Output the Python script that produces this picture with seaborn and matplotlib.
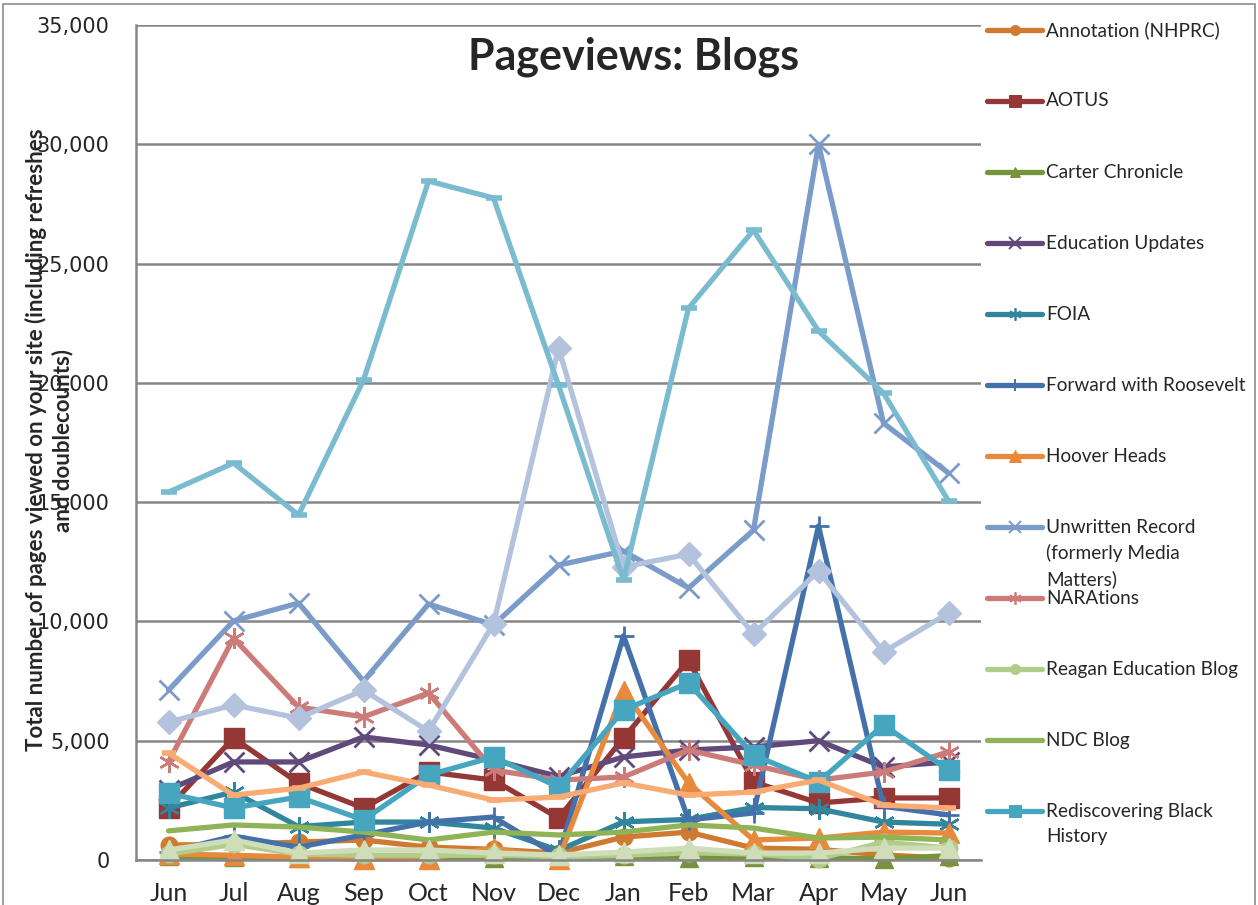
import numpy as np
import pandas as pd
import seaborn as sns
import matplotlib.pyplot as plt
from matplotlib.lines import Line2D
from matplotlib.patches import Rectangle
from matplotlib.ticker import FuncFormatter, FixedLocator

# months, Jun through Jun
months = ['Jun', 'Jul', 'Aug', 'Sep', 'Oct', 'Nov', 'Dec', 'Jan', 'Feb', 'Mar', 'Apr', 'May', 'Jun']

# pageviews per blog
annotation = [630, 650, 750, 840, 540, 450, 290, 960, 1170, 500, 450, 210, 80]
aotus = [2200, 5110, 3230, 2180, 3690, 3350, 1760, 5110, 8380, 3270, 2390, 2600, 2600]
carter = [150, 130, 90, 70, 70, 100, 180, 150, 100, 120, 100, 50, 180]
education = [2950, 4110, 4110, 5160, 4820, 4190, 3500, 4320, 4610, 4740, 5000, 3900, 4110]
foia = [2180, 2850, 1400, 1590, 1590, 1340, 400, 1600, 1700, 2200, 2150, 1590, 1500]
roosevelt = [330, 1000, 540, 1050, 1590, 1800, 150, 9400, 1680, 1970, 14000, 2250, 1890]
hoover = [250, 200, 120, 30, 50, 500, 30, 7100, 3230, 840, 920, 1170, 1130]
unwritten = [7120, 10020, 10770, 7500, 10730, 9850, 12360, 12950, 11400, 13830, 30000, 18310, 16220]
narations = [4110, 9300, 6410, 6000, 7000, 3770, 3350, 3480, 4610, 3980, 3350, 3690, 4530]
reagan = [250, 650, 250, 200, 200, 200, 150, 200, 300, 250, 50, 750, 500]
ndc = [1220, 1470, 1380, 1170, 840, 1170, 1050, 1170, 1470, 1340, 920, 960, 840]
black_history = [2800, 2180, 2640, 1680, 3560, 4320, 3060, 6290, 7420, 4400, 3270, 5660, 3770]
# series that fell off the bottom of the legend
series13 = [5780, 6500, 5950, 7120, 5400, 9890, 21460, 12280, 12820, 9470, 12110, 8720, 10350]
series14 = [15420, 16640, 14460, 20120, 28460, 27750, 19900, 11740, 23130, 26400, 22170, 19570, 15050]
series15 = [4480, 2720, 3010, 3690, 3140, 2510, 2640, 3230, 2720, 2850, 3350, 2300, 2180]
series16 = [420, 840, 290, 420, 420, 290, 210, 330, 500, 290, 290, 500, 500]

legend_names = ['Annotation (NHPRC)', 'AOTUS', 'Carter Chronicle', 'Education Updates', 'FOIA',
                'Forward with Roosevelt', 'Hoover Heads',
                'Unwritten Record\n(formerly Media\nMatters)', 'NARAtions',
                'Reagan Education Blog', 'NDC Blog', 'Rediscovering Black\nHistory']

asterisk = (6, 2, 0)
# (values, color, marker, markersize, edge width)
series = [
    (annotation, '#cf7a30', 'o', 12, 1),
    (aotus, '#953735', 's', 15, 1),
    (carter, '#77933c', '^', 13, 1),
    (education, '#604a7b', 'x', 14, 2),
    (foia, '#31859c', asterisk, 15, 1.8),
    (roosevelt, '#4571ab', '+', 15, 2),
    (hoover, '#e8893b', '^', 14, 1),
    (unwritten, '#7b9bc9', 'x', 15, 2),
    (narations, '#cd7b79', asterisk, 15, 1.8),
    (reagan, '#b1cd8c', 'o', 12, 1),
    (ndc, '#8fb356', None, 0, 0),
    (black_history, '#46a5bf', 's', 15, 1),
    (series13, '#b3c3dd', 'D', 12, 1),
    (series14, '#7abbd0', '_', 11, 4),
    (series15, '#f9ab74', '_', 10, 4),
    (series16, '#cfdeb8', '^', 14, 1),
]

W, H = 1258, 905
sns.set_theme(style='white')
plt.rcParams['font.family'] = ['Lato', 'DejaVu Sans']

fig = plt.figure(figsize=(W / 100, H / 100), dpi=100)
ax = fig.add_axes([136 / W, 1 - 860 / H, (981 - 136) / W, (860 - 25) / H])

x = np.arange(len(months))
for vals, color, marker, ms, mew in series:
    df = pd.DataFrame({'x': x, 'views': vals})
    sns.lineplot(data=df, x='x', y='views', ax=ax, color=color, lw=3.8,
                 marker=marker, markersize=ms, markeredgecolor=color,
                 markerfacecolor=color, markeredgewidth=mew,
                 clip_on=False, legend=False)

grid = '#868686'
ax.set_xlim(-0.5, len(months) - 0.5)
ax.set_ylim(0, 35000)
ax.yaxis.set_major_locator(FixedLocator(range(0, 35001, 5000)))
ax.yaxis.set_major_formatter(FuncFormatter(lambda v, p: f'{int(v):,}'))
ax.grid(axis='y', color=grid, lw=1.8)
ax.set_axisbelow(True)
ax.set_xticks(x)
ax.set_xticklabels(months, fontsize=18)
ax.set_xticks(np.arange(-0.5, len(months)), minor=True)
ax.tick_params(axis='x', which='major', length=0, pad=16)
ax.tick_params(axis='x', which='minor', length=5, width=1.5, color=grid, direction='out')
ax.tick_params(axis='y', length=5, width=1.5, color=grid, direction='out', pad=14)
for lab in ax.get_yticklabels():
    lab.set_fontfamily('DejaVu Sans')
    lab.set_fontsize(15)
ax.set_xlabel('')
ax.set_ylabel('')
for s in ['top', 'right']:
    ax.spines[s].set_visible(False)
for s in ['left', 'bottom']:
    ax.spines[s].set_color(grid)
    ax.spines[s].set_linewidth(1.8)

fig.text(634 / W, 1 - 57 / H, 'Pageviews: Blogs', fontsize=31, fontweight='bold',
         ha='center', va='center')
fig.text(49 / W, 1 - 440 / H,
         'Total number of pages viewed on your site (including refreshes\nand doublecounts)',
         fontsize=16, fontweight='bold', rotation=90, ha='center', va='center',
         linespacing=1.3)

# legend, laid out like the Excel one (entries at a fixed step)
for i, name in enumerate(legend_names):
    vals, color, marker, ms, mew = series[i]
    yc = 1 - (30 + 71 * i) / H
    h = Line2D([987 / W, 1015 / W, 1042 / W], [yc, yc, yc], transform=fig.transFigure,
               color=color, lw=3.8, marker=marker, markevery=[1],
               markersize=ms * 0.6, markeredgecolor=color, markerfacecolor=color,
               markeredgewidth=mew * 0.7)
    fig.add_artist(h)
    if '\n' in name:
        fig.text(1046 / W, yc + 8 / H, name, fontsize=13.7, va='top', ha='left',
                 linespacing=1.55)
    else:
        fig.text(1046 / W, yc, name, fontsize=13.7, va='center', ha='left')

fig.add_artist(Rectangle((3 / W, -0.05), (1255 - 3) / W, 1.05 - 4 / H,
                         transform=fig.transFigure, fill=False,
                         edgecolor='#8c8c8c', lw=1.2))

fig.savefig('out.png', dpi=100)
